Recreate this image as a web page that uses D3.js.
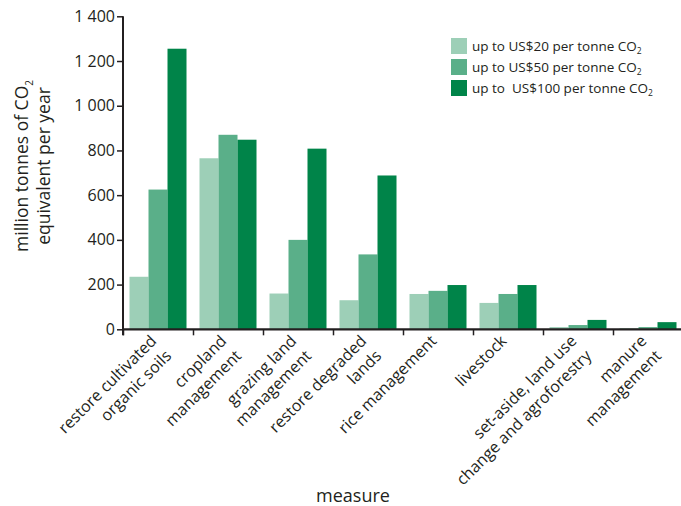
<!DOCTYPE html>
<html>
<head>
<meta charset="utf-8">
<script src="https://cdn.jsdelivr.net/npm/d3@7"></script>
<style>
  html, body { margin: 0; padding: 0; background: #fff; }
  svg { display: block; }
  text { font-family: "Open Sans", "Noto Sans", sans-serif; fill: #231f20; }
</style>
</head>
<body>
<svg id="chart" width="681" height="506"></svg>
<script>
const categories = [
  "restore cultivated\norganic soils",
  "cropland\nmanagement",
  "grazing land\nmanagement",
  "restore degraded\nlands",
  "rice management",
  "livestock",
  "set-aside, land use\nchange and agroforestry",
  "manure\nmanagement"
];
const seriesNames = ["up to US$20 per tonne CO", "up to US$50 per tonne CO", "up to  US$100 per tonne CO"];
const seriesColors = ["#9dcfb7", "#5aaf89", "#008449"];
const upTo20 = [235, 765, 160, 130, 158, 118, 10, 5];
const upTo50 = [625, 870, 400, 335, 172, 158, 19, 10];
const upTo100 = [1255, 848, 808, 688, 198, 198, 42, 32];
const yTicks = [0, 200, 400, 600, 800, 1000, 1200, 1400];

const series = [upTo20, upTo50, upTo100];
const svg = d3.select("#chart");
const ink = "#231f20";

const mLeft = 123, mRight = 683, mTop = 16.3, mBottom = 329.3;

const x0 = d3.scaleBand().domain(d3.range(categories.length)).range([mLeft, mRight])
  .paddingInner(0.1857).paddingOuter(0.0929);
const x1 = d3.scaleBand().domain(d3.range(series.length)).range([0, x0.bandwidth()]);
const xb = d3.scaleLinear().domain([0, categories.length]).range([mLeft, mRight]);
const y = d3.scaleLinear().domain([0, 1400]).range([mBottom, mTop]);

// bars
const groups = svg.append("g").selectAll("g").data(categories).join("g")
  .attr("transform", (d, i) => `translate(${x0(i)},0)`);
groups.selectAll("rect")
  .data((d, i) => series.map((s, k) => ({k, v: s[i]})))
  .join("rect")
  .attr("x", d => x1(d.k))
  .attr("width", x1.bandwidth())
  .attr("y", d => y(d.v))
  .attr("height", d => y(0) - y(d.v))
  .attr("fill", d => seriesColors[d.k]);

// y axis
const yAxis = svg.append("g").attr("transform", `translate(${mLeft},0)`)
  .call(d3.axisLeft(y).tickValues(yTicks).tickSize(6).tickPadding(2)
    .tickFormat(d => d3.format(",")(d).replace(/,/g, " ")));
yAxis.select(".domain").attr("stroke", ink).attr("stroke-width", 2).attr("d", `M0,${mTop}V${mBottom + 6}`);
yAxis.selectAll(".tick line").attr("stroke", ink).attr("stroke-width", 1.5);
yAxis.selectAll(".tick text").style("font-family", '"Open Sans", sans-serif').attr("font-size", 16).attr("fill", ink);

// x axis
const xAxis = svg.append("g").attr("transform", `translate(0,${mBottom})`)
  .call(d3.axisBottom(xb).tickValues(d3.range(0, categories.length)).tickSize(6).tickSizeOuter(0).tickFormat(""));
xAxis.select(".domain").attr("stroke", ink).attr("stroke-width", 2.2).attr("d", `M${mLeft - 1},0H681`);
xAxis.selectAll(".tick line").attr("stroke", ink).attr("stroke-width", 1.5);

// x labels
const labels = svg.append("g").selectAll("text").data(categories).join("text")
  .attr("transform", (d, i) => `translate(${x0(i) + x0.bandwidth() / 2 - 0.5},342) rotate(-45)`)
  .attr("text-anchor", "end")
  .attr("font-size", 16);
labels.selectAll("tspan").data(d => d.split("\n")).join("tspan")
  .attr("x", 0).attr("dy", (d, i) => i ? 21 : 0).text(d => d);

// y title
const yt = svg.append("text").attr("transform", "translate(28,166) rotate(-90)")
  .attr("text-anchor", "middle").attr("font-size", 17.5);
yt.append("tspan").text("million tonnes of CO");
yt.append("tspan").attr("font-size", 10).attr("dy", 5).text("2");
yt.append("tspan").attr("x", 0).attr("dy", 17).text("equivalent per year");

// x title
svg.append("text").attr("x", 353).attr("y", 502).attr("text-anchor", "middle")
  .attr("font-size", 18).text("measure");

// legend
const lg = svg.append("g").selectAll("g").data(seriesNames).join("g")
  .attr("transform", (d, i) => `translate(451,${38 + i * 21})`);
lg.append("rect").attr("width", 16).attr("height", 16).attr("fill", (d, i) => seriesColors[i]);
const lt = lg.append("text").attr("x", 21).attr("y", 13).attr("font-size", 13.5)
  .attr("xml:space", "preserve").style("white-space", "pre");
lt.append("tspan").text(d => d);
lt.append("tspan").attr("font-size", 8.5).attr("dy", 3).text("2");
</script>
</body>
</html>
